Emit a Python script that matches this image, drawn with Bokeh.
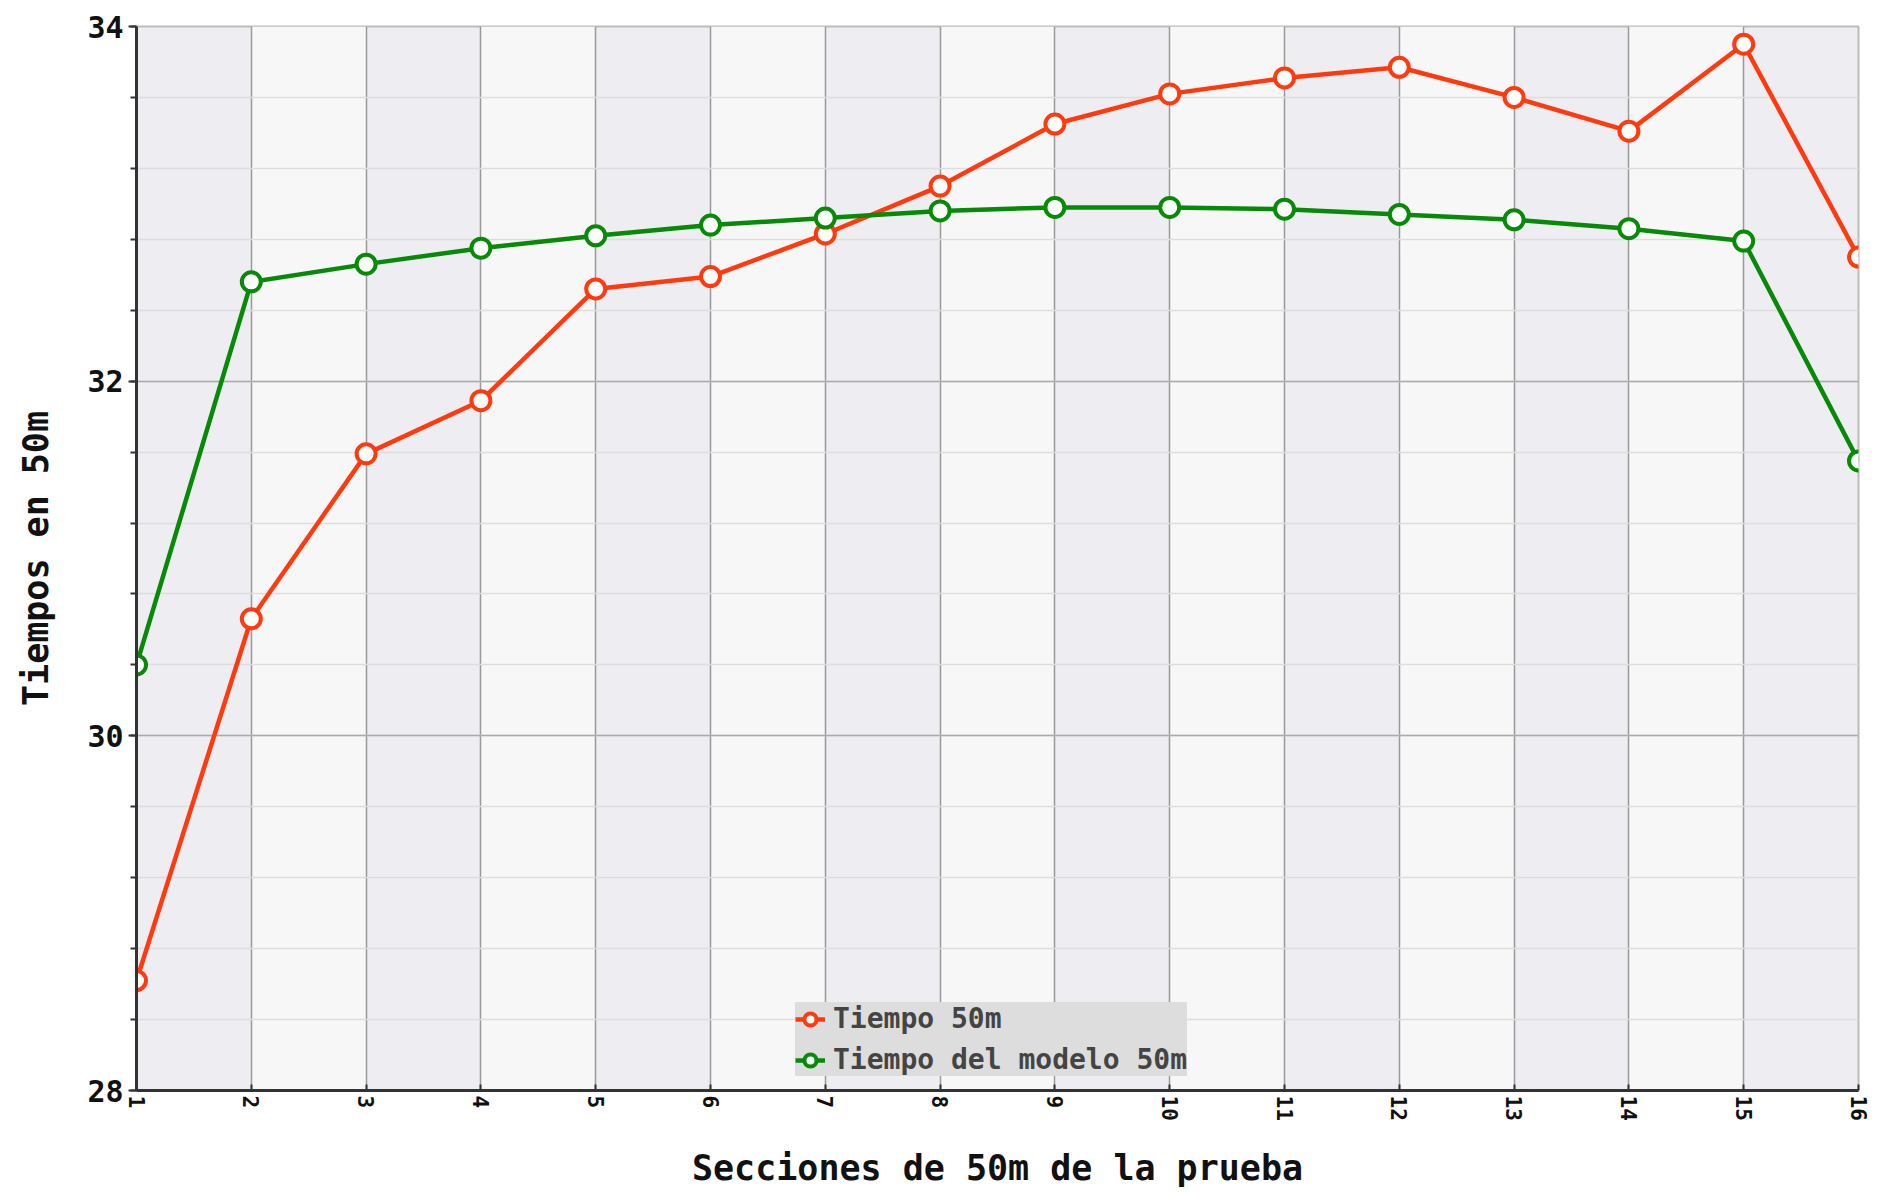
import math
from bokeh.plotting import figure
from bokeh.models import Legend, LegendItem, FixedTicker, Range1d
from bokeh.embed import file_html
from bokeh.resources import INLINE

secciones = list(range(1, 17))
tiempo_50m = [28.62, 30.66, 31.59, 31.89, 32.52, 32.59, 32.83, 33.10, 33.45, 33.62, 33.71, 33.77, 33.60, 33.41, 33.90, 32.70]
tiempo_modelo = [30.40, 32.56, 32.66, 32.75, 32.82, 32.88, 32.92, 32.96, 32.98, 32.98, 32.97, 32.94, 32.91, 32.86, 32.79, 31.55]
y_ticks = [28, 30, 32, 34]
y_minor = [28 + 0.4 * i for i in range(16)]

FONT = "DejaVu Sans Mono"
RED = "#ff3a0f"
GREEN = "#078a07"

p = figure(frame_width=1722, frame_height=1064, output_backend="svg", toolbar_location=None,
           x_range=Range1d(1, 16), y_range=Range1d(28, 34),
           min_border_left=136, min_border_top=26, min_border_right=16, min_border_bottom=20)
p.background_fill_color = "#eeeef2"
p.outline_line_color = "#bbbbbb"
p.outline_line_width = 2

p.xaxis.ticker = FixedTicker(ticks=secciones)
p.yaxis.ticker = FixedTicker(ticks=y_ticks, minor_ticks=y_minor)
p.xgrid.grid_line_color = "#999999"
p.xgrid.grid_line_width = 1.5
p.xgrid.band_fill_color = "#f7f7f7"
p.xgrid.band_fill_alpha = 1
p.ygrid.grid_line_color = "#aaaaaa"
p.ygrid.grid_line_width = 1.5
p.ygrid.minor_grid_line_color = "#dddddd"
p.ygrid.minor_grid_line_width = 1.5

for ax in (p.xaxis, p.yaxis):
    ax.axis_line_width = 3
    ax.axis_line_color = "#333333"
    ax.major_label_text_font = FONT
    ax.major_label_text_font_style = "bold"
    ax.major_label_text_color = "#111111"
    ax.axis_label_text_font = FONT
    ax.axis_label_text_font_style = "bold"
    ax.axis_label_text_font_size = "35px"
    ax.axis_label_text_color = "#111111"
    ax.major_tick_line_color = "#333333"
    ax.minor_tick_line_color = "#333333"
    ax.major_tick_line_width = 2
    ax.minor_tick_line_width = 2

p.xaxis.major_label_text_font_size = "21px"
p.xaxis.major_label_orientation = -math.pi / 2
p.xaxis.major_tick_in = 6
p.xaxis.major_tick_out = 0
p.xaxis.axis_label = "Secciones de 50m de la prueba"
p.xaxis.axis_label_standoff = 24
p.yaxis.major_label_text_font_size = "30px"
p.yaxis.major_tick_in = 0
p.yaxis.major_tick_out = 8
p.yaxis.minor_tick_out = 6
p.yaxis.minor_tick_in = 0
p.yaxis.axis_label = "Tiempos en 50m"
p.yaxis.axis_label_standoff = 28

l1 = p.line(secciones, tiempo_50m, line_color=RED, line_width=4.5)
c1 = p.scatter(secciones, tiempo_50m, size=19, fill_color="white", line_color=RED, line_width=4)
l2 = p.line(secciones, tiempo_modelo, line_color=GREEN, line_width=4.5)
c2 = p.scatter(secciones, tiempo_modelo, size=19, fill_color="white", line_color=GREEN, line_width=4)

legend = Legend(items=[LegendItem(label="Tiempo 50m", renderers=[l1, c1]),
                       LegendItem(label="Tiempo del modelo 50m", renderers=[l2, c2])],
                location=(659, 14))
legend.background_fill_color = "#dddddd"
legend.background_fill_alpha = 1
legend.border_line_color = None
legend.label_text_font = FONT
legend.label_text_font_style = "bold"
legend.label_text_font_size = "28px"
legend.label_height = 30
legend.glyph_height = 30
legend.spacing = 8
legend.padding = 8
legend.glyph_width = 30
legend.label_standoff = 8
p.add_layout(legend, "center")

open("out.html", "w").write(file_html(p, INLINE))
